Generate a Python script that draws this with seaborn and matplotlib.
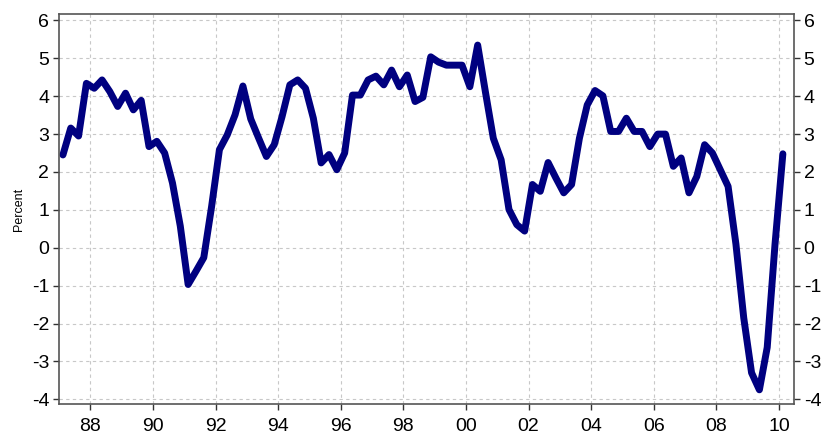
import numpy as np
import pandas as pd
import matplotlib
matplotlib.use("Agg")
import matplotlib.pyplot as plt
import seaborn as sns

# Quarterly values, 1987Q1 - 2010Q1 (percent)
start_year = 1987
values = [
    2.45, 3.16, 2.95, 4.34,
    4.21, 4.43, 4.12, 3.73,
    4.08, 3.64, 3.89, 2.67,
    2.81, 2.50, 1.71, 0.57,
    -0.97, -0.62, -0.26, 1.09,
    2.59, 2.98, 3.51, 4.27,
    3.40, 2.90, 2.41, 2.72,
    3.46, 4.30, 4.43, 4.21,
    3.42, 2.24, 2.46, 2.06,
    2.50, 4.03, 4.03, 4.43,
    4.53, 4.30, 4.69, 4.25,
    4.56, 3.86, 3.97, 5.04,
    4.90, 4.82, 4.82, 4.82,
    4.25, 5.35, 4.10, 2.89,
    2.32, 1.01, 0.61, 0.44,
    1.67, 1.49, 2.25, 1.84,
    1.45, 1.67, 2.89, 3.77,
    4.15, 4.01, 3.07, 3.07,
    3.42, 3.07, 3.07, 2.67,
    3.00, 3.00, 2.15, 2.37,
    1.45, 1.88, 2.72, 2.50,
    2.06, 1.62, 0.10, -1.85,
    -3.30, -3.75, -2.63, 0.10,
    2.48,
]
tick_years = list(range(1988, 2011, 2))
tick_labels = [str(y)[-2:] for y in tick_years]
y_ticks = list(range(-4, 7))

# quarter midpoints as fractional years
n = len(values)
quarters = [start_year + i // 4 + (i % 4 + 0.5) / 4 for i in range(n)]
df = pd.DataFrame({"t": quarters, "v": values})

sns.set_style("white")
plt.rcParams["font.family"] = ["Liberation Sans", "DejaVu Sans"]

fig = plt.figure(figsize=(8.3, 4.38), dpi=100)
ax = fig.add_axes([0.0711, 0.0780, 0.8855, 0.8900])

sns.lineplot(data=df, x="t", y="v", ax=ax, color="#000080", linewidth=5.0)

ax.set_xlim(1987.0, 2010.48)
ax.set_ylim(-4.12, 6.17)
ax.set_xticks(tick_years)
ax.set_xticklabels(tick_labels)
ax.set_yticks(y_ticks)
ax.set_yticklabels([str(v) for v in y_ticks])
ax.set_xlabel("")
ax.set_ylabel("Percent", fontsize=9, labelpad=5, color="black")

ax.grid(True, color="#c8c8c8", linestyle=(0, (3, 3)), linewidth=0.8)
ax.tick_params(axis="both", labelsize=14, labelcolor="black", direction="out",
               length=4, width=1, color="#333333")
ax.tick_params(axis="y", right=True, labelright=True, left=True, pad=3)
ax.tick_params(axis="x", bottom=True, pad=6)
for s in ax.spines.values():
    s.set_color("#555555")
    s.set_linewidth(1.2)

fig.savefig("out.png", dpi=100)
